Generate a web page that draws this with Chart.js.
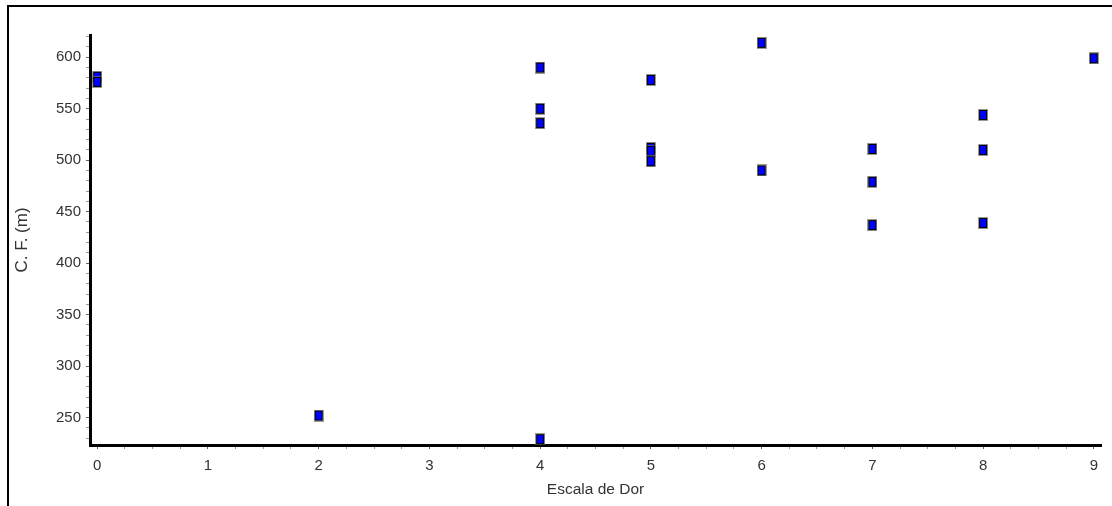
<!DOCTYPE html>
<html>
<head>
<meta charset="utf-8">
<script src="https://cdn.jsdelivr.net/npm/chart.js@4"></script>
<style>
  body { margin: 0; background: #fff; }
  #box { position: relative; width: 1112px; height: 506px; }
  #rahmen { position: absolute; left: 7px; top: 5px; right: 0; bottom: 0; border-left: 2px solid #000; border-top: 2px solid #000; pointer-events: none; }
  canvas { position: absolute; left: 0; top: 0; }
</style>
</head>
<body>
<div id="box">
  <canvas id="grafico" width="1112" height="506"></canvas>
  <div id="rahmen"></div>
</div>
<script>
// Escala de Dor x C. F. (m)
const escalaDor = [0, 0, 2, 4, 4, 4, 4, 5, 5, 5, 5, 6, 6, 7, 7, 7, 8, 8, 8, 9];
const cf = [581, 576, 252, 590, 550, 536, 229, 578, 512, 509, 499, 614, 490, 511, 479, 437, 544, 510, 439, 599];

const xMin = -0.065, xMax = 9.065;
const yMin = 223.4, yMax = 621.6;

function marcador() {
  const c = document.createElement("canvas");
  c.width = 10;
  c.height = 12;
  const g = c.getContext("2d");
  g.fillStyle = "rgba(110,110,110,0.7)";
  g.fillRect(0, 0, 10, 12);
  g.fillStyle = "#000";
  g.fillRect(1, 1, 8, 10);
  g.fillStyle = "#0000ff";
  g.fillRect(2, 2, 6, 8);
  return c;
}

const pontos = escalaDor.map((x, i) => ({ x, y: cf[i] }));
const familia = "'Liberation Sans', Arial, sans-serif";
const fonte = { family: familia, size: 15 };

new Chart(document.getElementById("grafico"), {
  type: "scatter",
  data: {
    datasets: [{
      data: pontos,
      pointStyle: marcador(),
      pointRadius: 5,
      pointHoverRadius: 5
    }]
  },
  options: {
    responsive: false,
    animation: false,
    events: [],
    layout: { padding: { left: 0, top: 35, right: 11, bottom: 0 } },
    plugins: { legend: { display: false }, tooltip: { enabled: false } },
    scales: {
      x: {
        type: "linear",
        min: xMin,
        max: xMax,
        afterFit: s => { s.height = 61; },
        border: { color: "#000", width: 3 },
        grid: {
          drawOnChartArea: false,
          tickLength: 4,
          tickColor: c => Number.isInteger(c.tick.value) ? "#666" : "#999"
        },
        ticks: {
          stepSize: 0.25,
          includeBounds: false,
          autoSkip: false,
          maxRotation: 0,
          padding: 8,
          color: "#333",
          font: fonte,
          callback: v => Number.isInteger(v) ? String(v) : ""
        },
        title: { display: true, text: "Escala de Dor", color: "#333", font: { family: familia, size: 15.5 }, padding: { top: 0, bottom: 7 } }
      },
      y: {
        min: yMin,
        max: yMax,
        afterFit: s => { s.width = 90; },
        border: { color: "#000", width: 3 },
        grid: {
          drawOnChartArea: false,
          tickLength: 4,
          tickColor: c => c.tick.value % 50 === 0 ? "#666" : "#999"
        },
        ticks: {
          stepSize: 10,
          includeBounds: false,
          autoSkip: false,
          padding: 5,
          color: "#333",
          font: fonte,
          callback: v => v % 50 === 0 ? String(v) : ""
        },
        title: { display: true, text: "C. F. (m)", color: "#333", font: { family: familia, size: 17 }, padding: { top: 12, bottom: 0 } }
      }
    }
  }
});
</script>
</body>
</html>
